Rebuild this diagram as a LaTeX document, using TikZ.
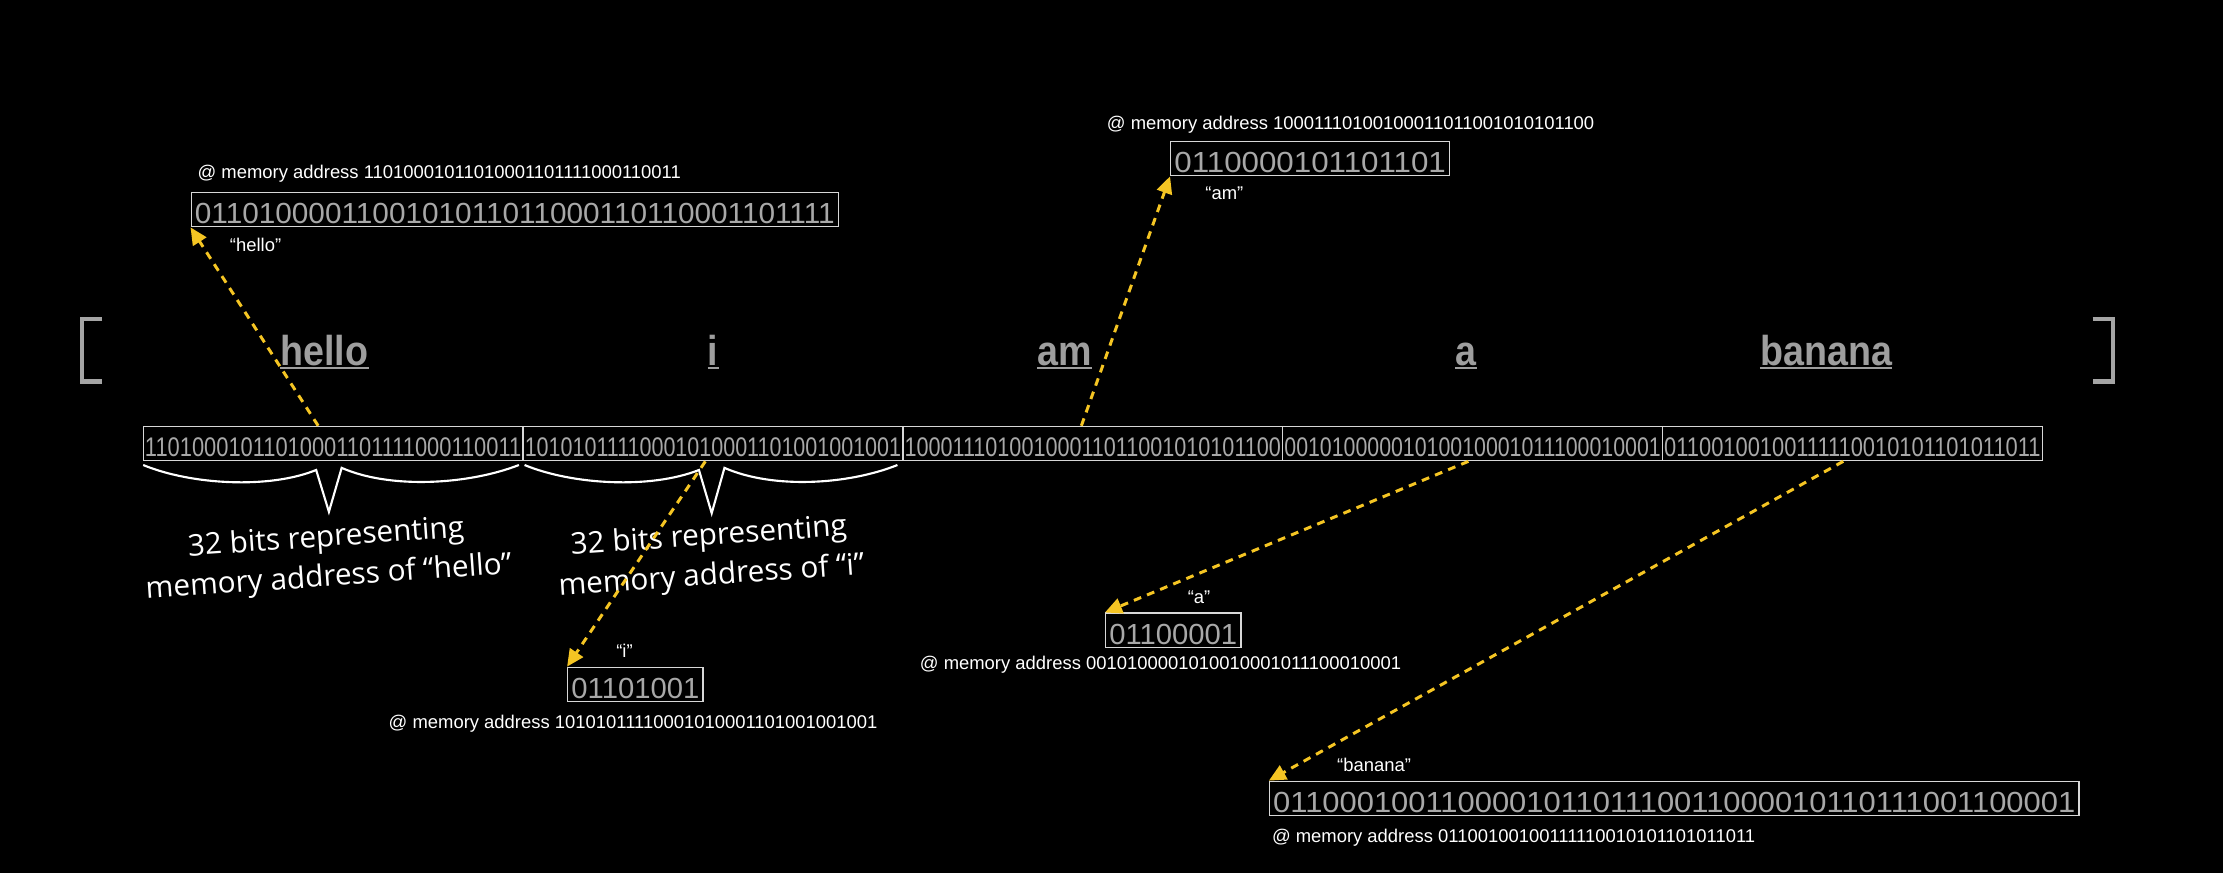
\documentclass[tikz,border=0pt]{standalone}
\usepackage{fontspec}
\setmainfont{Liberation Sans}
\newfontfamily\handfont{Open Sans}
\usetikzlibrary{arrows.meta,calc}
\definecolor{ptryellow}{RGB}{245,197,35}
\definecolor{wordgray}{RGB}{158,158,158}
\definecolor{digitgray}{RGB}{168,168,168}
\definecolor{boxline}{RGB}{215,215,215}
\definecolor{brackgray}{RGB}{165,165,165}
\newcommand\fitto[2]{\resizebox{#1}{\height}{#2}}
\begin{document}
\begin{tikzpicture}[x=1pt,y=-1pt,
  cellbox/.style={draw=boxline,line width=0.9pt,anchor=north west,minimum width=267.9pt,
    inner xsep=1.2pt,inner ysep=0pt,text height=21.2pt,text depth=3pt,text=digitgray,
    font=\fontsize{19}{19}\selectfont},
  membox/.style={draw=boxline,line width=0.9pt,anchor=north west,
    inner xsep=2.6pt,inner ysep=0pt,text height=22pt,text depth=2.3pt,text=digitgray,
    font=\fontsize{20.5}{21}\selectfont},
  word/.style={anchor=base,inner sep=0pt,text=wordgray,font=\bfseries\fontsize{29.5}{30}\selectfont},
  uline/.style={draw=wordgray,line width=1.5pt},
  lbl/.style={anchor=base west,inner sep=0pt,text=white,font=\fontsize{13}{13}\selectfont},
  bracket/.style={draw=brackgray,line width=3pt},
  bracestyle/.style={draw=white,line width=1.5pt,line join=miter},
  note/.style={align=center,text=white,rotate=4,inner sep=0pt,font=\handfont\fontsize{21}{28}\selectfont},
  ptr/.style={draw=ptryellow,line width=2.1pt,dash pattern=on 5.5pt off 4.5pt,
    -{Triangle[length=12pt,width=11pt,fill=ptryellow]}}
]
\useasboundingbox (0,0) rectangle (1568,616);
\fill[black] (0,0) rectangle (1568,616);

% brackets
\draw[bracket] (72,225) -- (58,225) -- (58,269) -- (72,269);
\draw[bracket] (1476,225) -- (1490.5,225) -- (1490.5,269) -- (1476,269);

% words
\node[word] (w1) at (228.8,257.5) {\scalebox{0.9}[1]{hello}};
\node[word] (w2) at (503,257.5) {\scalebox{0.9}[1]{i}};
\node[word] (w3) at (751,257.5) {\scalebox{0.9}[1]{am}};
\node[word] (w4) at (1034,257.5) {\scalebox{0.9}[1]{a}};
\node[word] (w5) at (1288,257.5) {\scalebox{0.9}[1]{banana}};
\foreach \w in {w1,w2,w3,w4,w5}
  \draw[uline] ([yshift=-2.2pt]\w.base west) -- ([yshift=-2.2pt]\w.base east);

% main array
\node[cellbox] (c1) at (100.6,300.3) {\fitto{265.5pt}{11010001011010001101111000110011}};
\node[cellbox] (c2) at (368.5,300.3) {\fitto{265.5pt}{10101011110001010001101001001001}};
\node[cellbox] (c3) at (636.4,300.3) {\fitto{265.5pt}{10001110100100011011001010101100}};
\node[cellbox] (c4) at (904.3,300.3) {\fitto{265.5pt}{00101000001010010001011100010001}};
\node[cellbox] (c5) at (1172.2,300.3) {\fitto{265.5pt}{01100100100111110010101101011011}};

% memory boxes
\node[membox] (hb) at (134.4,135.2) {\fitto{451.4pt}{0110100001100101011011000110110001101111}};
\node[membox] (mb) at (825.3,99.2) {\fitto{191.5pt}{0110000101101101}};
\node[membox] (ib) at (400,470.2) {\fitto{90.2pt}{01101001}};
\node[membox] (ab) at (779.4,432) {\fitto{90.2pt}{01100001}};
\node[membox] (bb) at (895,550.6) {\fitto{565.8pt}{011000100110000101101110011000010110111001100001}};

% addresses
\node[lbl] (ah) at (139.2,126) {@ memory address 11010001011010001101111000110011};
\node[lbl] (am) at (780.6,91) {@ memory address 10001110100100011011001010101100};
\node[lbl] (ai) at (274,513.5) {@ memory address 10101011110001010001101001001001};
\node[lbl] (aa) at (648.7,472.5) {@ memory address 0010100001010010001011100010001};
\node[lbl] (ab2) at (897,594) {@ memory address 01100100100111110010101101011011};

% value labels
\node[lbl] (lh) at (162,177.5) {“hello”};
\node[lbl] (lm) at (850,141) {“am”};
\node[lbl] (li) at (434.5,464) {“i”};
\node[lbl] (la) at (837.6,425.6) {“a”};
\node[lbl] (lb) at (943,544.3) {“banana”};

% braces
\draw[bracestyle] (101,328) .. controls (135,342) and (190,345) .. (223,331.5)
  -- (232,361) -- (241,330) .. controls (275,345) and (330,342) .. (366,328);
\draw[bracestyle] (370,328) .. controls (404,342) and (459,345) .. (493,331.5)
  -- (502,362) -- (511,330) .. controls (545,345) and (598,342) .. (633,328);

\node[note] (n1) at (231,394) {32 bits representing\\memory address of “hello”};
\node[note] (n2) at (501,393) {32 bits representing\\memory address of “i”};

% pointers
\draw[ptr] ($(c1.north west)!0.4606!(c1.north east)$) -- (hb.south west);
\draw[ptr] ($(c3.north west)!0.470!(c3.north east)$) -- (mb.south west);
\draw[ptr] ($(c2.south west)!0.480!(c2.south east)$) -- (ib.north west);
\draw[ptr] ($(c4.south west)!0.489!(c4.south east)$) -- (ab.north west);
\draw[ptr] ($(c5.south west)!0.476!(c5.south east)$) -- (bb.north west);
\end{tikzpicture}
\end{document}
